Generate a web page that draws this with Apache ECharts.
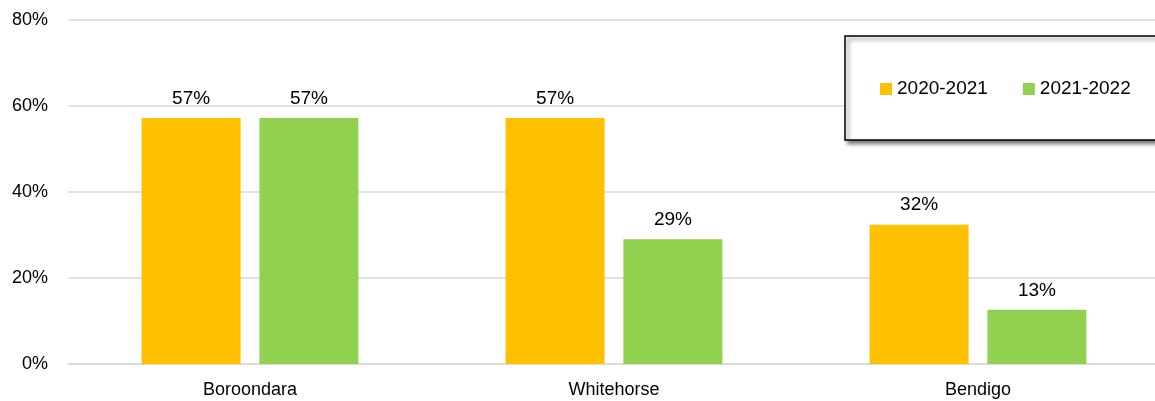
<!DOCTYPE html>
<html>
<head>
<meta charset="utf-8">
<script src="https://cdn.jsdelivr.net/npm/echarts@6/dist/echarts.min.js"></script>
<style>
html,body{margin:0;padding:0;background:#fff;}
#main{width:1155px;height:401px;}
</style>
</head>
<body>
<div id="main"></div>
<script>
const categories = ['Boroondara', 'Whitehorse', 'Bendigo'];
const seriesNames = ['2020-2021', '2021-2022'];
const values2020 = [57.2, 57.2, 32.4];
const values2021 = [57.2, 29.0, 12.6];
const yTicks = [0, 20, 40, 60, 80];

const FONT = '"Liberation Sans", Arial, sans-serif';
const chart = echarts.init(document.getElementById('main'));
const labelCfg = {
  show: true,
  position: 'top',
  distance: 10,
  fontFamily: FONT,
  fontSize: 19,
  color: '#000',
  formatter: p => Math.round(p.value) + '%'
};
chart.setOption({
  animation: false,
  backgroundColor: '#fff',
  grid: { left: 68, top: 20, width: 1092, bottom: 37, containLabel: false, outerBoundsMode: 'none' },
  graphic: [{
    type: 'rect',
    z: 50,
    shape: { x: 845, y: 36, width: 340, height: 104 },
    style: {
      fill: '#fff',
      stroke: '#000',
      lineWidth: 1.5,
      shadowColor: 'rgba(0,0,0,0.55)',
      shadowBlur: 4,
      shadowOffsetX: 3,
      shadowOffsetY: 3
    }
  }],
  legend: {
    data: seriesNames,
    left: 880,
    top: 79,
    z: 60,
    orient: 'horizontal',
    icon: 'rect',
    itemWidth: 12,
    itemHeight: 12,
    itemGap: 35,
    padding: 0,
    textStyle: { fontFamily: FONT, fontSize: 19, color: '#000', lineHeight: 20 }
  },
  xAxis: {
    type: 'category',
    data: categories,
    axisLine: { show: true, lineStyle: { color: '#d9d9d9', width: 1.5 } },
    axisTick: { show: false },
    axisLabel: { fontFamily: FONT, fontSize: 18, color: '#000', margin: 17 }
  },
  yAxis: {
    type: 'value',
    min: yTicks[0],
    max: yTicks[yTicks.length - 1],
    interval: 20,
    axisLine: { show: false },
    axisTick: { show: false },
    splitLine: { lineStyle: { color: '#d9d9d9', width: 1.5 } },
    axisLabel: { fontFamily: FONT, fontSize: 18, color: '#000', margin: 20, formatter: '{value}%' }
  },
  series: [
    { name: seriesNames[0], type: 'bar', data: values2020, barWidth: 99, barGap: '19%', itemStyle: { color: '#FFC000' }, label: labelCfg },
    { name: seriesNames[1], type: 'bar', data: values2021, barWidth: 99, barGap: '19%', itemStyle: { color: '#92D050' }, label: labelCfg }
  ]
});
</script>
</body>
</html>
